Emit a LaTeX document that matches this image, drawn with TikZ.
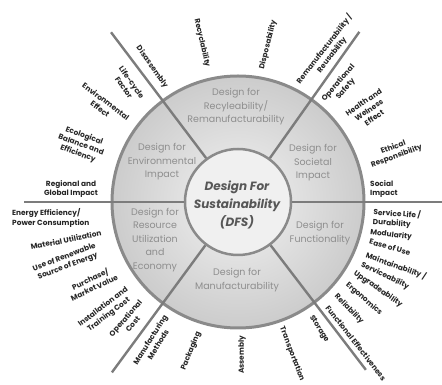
\documentclass[tikz,border=0pt]{standalone}
\usepackage{fontspec}
\setmainfont{Poppins}
\definecolor{rimgray}{HTML}{8A8A8A}
\definecolor{linegray}{HTML}{7C7C7C}
\definecolor{ringtext}{HTML}{8E8E8E}
\definecolor{hubtext}{HTML}{575757}
\begin{document}
\begin{tikzpicture}[x=1pt,y=1pt,
    item/.style={font=\bfseries\fontsize{7.4}{9.4}\selectfont, text=black!85, align=center, inner sep=0pt},
    area/.style={font=\fontsize{9.5}{13.5}\selectfont, text=ringtext, align=center, inner sep=0pt},
    spoke/.style={draw=linegray, line width=2.4pt}]
    \useasboundingbox (-238,-183) rectangle (204,202);
    \node[circle, draw=rimgray, line width=3pt, minimum size=252pt, inner color=gray!10, outer color=gray!40] (rim) at (0,0) {};
    \node[circle, draw=rimgray, line width=2.5pt, minimum size=106pt, fill=gray!12] (hub) at (0,0) {};
    \coordinate (e1) at (0:215);
    \coordinate (e2) at (54.5:209);
    \coordinate (e3) at (126.8:212);
    \coordinate (e4) at (180:214);
    \coordinate (e5) at (233.5:212);
    \coordinate (e6) at (307.3:211);
    \draw[spoke] (hub.0) -- (e1);
    \draw[spoke] (hub.54.5) -- (e2);
    \draw[spoke] (hub.126.8) -- (e3);
    \draw[spoke] (hub.180) -- (e4);
    \draw[spoke] (hub.233.5) -- (e5);
    \draw[spoke] (hub.307.3) -- (e6);
    \node[font=\bfseries\itshape\fontsize{12}{18}\selectfont, text=hubtext, align=center] (dfs) at (-1,-3) {Design For\\Sustainability\\(DFS)};
    \node[area] (recyarea) at (-2,95) {Design for\\Recyleability/\\Remanufacturability};
    \node[area] (envarea) at (-76,40) {Design for\\Environmental\\Impact};
    \node[area] (socarea) at (75,39) {Design for\\Societal\\Impact};
    \node[area] (funarea) at (82,-31) {Design for\\Functionality};
    \node[area] (resarea) at (-83,-38) {Design for\\Resource\\Utilization\\and\\Economy};
    \node[area] (manarea) at (-1,-78) {Design for\\Manufacturability};
    \node[item, rotate=-77] (recyc) at (-36,159) {Recyclability};
    \node[item, rotate=76] (dispo) at (30,157) {Disposability};
    \node[item, rotate=52] (reman) at (90,150) {Remanufacturability /\\Reusability};
    \node[item, rotate=49] (opsafe) at (104,116) {Operational\\Safety};
    \node[item, rotate=34] (health) at (131,92) {Health and\\Welness\\Effect};
    \node[item, rotate=20] (ethic) at (157,50) {Ethical\\Responsibility};
    \node[item, anchor=west, align=left] (social) at (132,13) {Social\\Impact};
    \node[item, anchor=west, align=left, rotate=-4] (service) at (135,-15) {Service Life /\\Durability};
    \node[item, rotate=-7] (modul) at (153,-33) {Modularity};
    \node[item, rotate=-16] (ease) at (152,-45) {Ease of Use};
    \node[item, rotate=-20] (maint) at (158,-64) {Maintainability /};
    \node[item, rotate=-26] (servic) at (147,-74) {Serviceability};
    \node[item, rotate=-35] (upgr) at (140,-87) {Upgradeability};
    \node[item, rotate=-41] (ergo) at (126,-97) {Ergonomics};
    \node[item, rotate=-46] (relia) at (111,-107) {Reliability};
    \node[item, rotate=-52] (funct) at (118,-141) {Functional Effectiveness};
    \node[item, rotate=-58] (stor) at (81,-127) {Storage};
    \node[item, rotate=-69] (transp) at (54,-152) {Transportation};
    \node[item, rotate=90] (assem) at (4,-153) {Assembly};
    \node[item, rotate=68] (pack) at (-47,-149) {Packaging};
    \node[item, rotate=58] (manuf) at (-84,-140) {Manufacturing\\Methods};
    \node[item, rotate=49] (opcost) at (-109,-119) {Operational\\Cost};
    \node[item, rotate=37] (install) at (-132,-109) {Installation and\\Training Cost};
    \node[item, rotate=25] (purch) at (-146,-81) {Purchase/\\Market Value};
    \node[item, rotate=21] (renew) at (-172,-60) {Use of Renewable\\Source of Energy};
    \node[item, rotate=11] (mater) at (-172,-38) {Material Utilization};
    \node[item, anchor=west, align=left] (energy) at (-226,-16) {Energy Efficiency/\\Power Consumption};
    \node[item] (region) at (-167,13) {Regional and\\Global Impact};
    \node[item, rotate=-20] (ecolo) at (-157,57) {Ecological\\Balance and\\Efficiency};
    \node[item, rotate=-37] (envir) at (-135,97) {Environmental\\Effect};
    \node[item, rotate=-55] (life) at (-110,117) {Life-cycle\\Factor};
    \node[item, rotate=-55] (disas) at (-86,135) {Disassembly};
\end{tikzpicture}
\end{document}
